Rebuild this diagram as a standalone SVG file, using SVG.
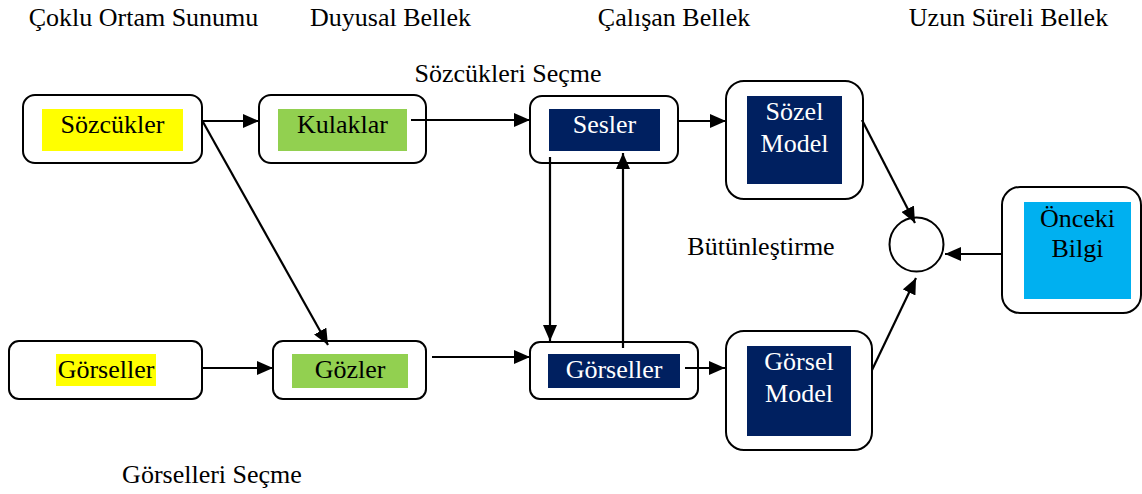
<svg xmlns="http://www.w3.org/2000/svg" width="1142" height="494" viewBox="0 0 1142 494">
<style>
text{font-family:"Times New Roman","Liberation Serif",Tinos,"DejaVu Serif",serif;font-size:26px;text-anchor:middle;fill:#000}
.box{fill:#fff;stroke:#000;stroke-width:2}
.w{fill:#fff}
.ln{stroke:#000;stroke-width:2.2;fill:none;marker-end:url(#ah)}
</style>
<defs>
<marker id="ah" viewBox="0 0 16 14" refX="16" refY="7" markerWidth="16" markerHeight="14" markerUnits="userSpaceOnUse" orient="auto">
<path d="M0,0 L16,7 L0,14 Z" fill="#000"/>
</marker>
</defs>
<g id="labels">
<text x="143.5" y="26">Çoklu Ortam Sunumu</text>
<text x="390.5" y="26">Duyusal Bellek</text>
<text x="674" y="26">Çalışan Bellek</text>
<text x="1008.5" y="26">Uzun Süreli Bellek</text>
<text x="508" y="82">Sözcükleri Seçme</text>
<text x="761" y="255">Bütünleştirme</text>
<text x="212" y="483">Görselleri Seçme</text>
</g>
<g id="sozcukler">
<rect class="box" x="23" y="95" width="179" height="68" rx="12"/>
<rect x="42" y="109" width="141" height="42" fill="#FFFF00"/>
<text x="112.5" y="133">Sözcükler</text>
</g>
<g id="kulaklar">
<rect class="box" x="259" y="95" width="167" height="68" rx="12"/>
<rect x="278" y="109" width="129" height="42" fill="#92D050"/>
<text x="342.5" y="133">Kulaklar</text>
</g>
<g id="sesler">
<rect class="box" x="530" y="96" width="148" height="67" rx="12"/>
<rect x="549" y="109" width="111" height="42" fill="#002060"/>
<text class="w" x="604.5" y="133">Sesler</text>
</g>
<g id="sozel-model">
<rect class="box" x="726" y="81" width="137" height="118" rx="18"/>
<rect x="747" y="96" width="95" height="88" fill="#002060"/>
<text class="w" x="794.5" y="120">Sözel</text>
<text class="w" x="794.5" y="152">Model</text>
</g>
<g id="gorseller-input">
<rect class="box" x="9" y="341" width="193" height="58" rx="10"/>
<rect x="56" y="354" width="100" height="32" fill="#FFFF00"/>
<text x="106" y="378">Görseller</text>
</g>
<g id="gozler">
<rect class="box" x="273" y="341" width="153" height="58" rx="10"/>
<rect x="292" y="354" width="116" height="34" fill="#92D050"/>
<text x="350" y="378">Gözler</text>
</g>
<g id="gorseller">
<rect class="box" x="530" y="342" width="168" height="57" rx="10"/>
<rect x="548" y="354" width="132" height="34" fill="#002060"/>
<text class="w" x="614" y="378">Görseller</text>
</g>
<g id="gorsel-model">
<rect class="box" x="726" y="331" width="146" height="119" rx="18"/>
<rect x="747" y="346" width="104" height="90" fill="#002060"/>
<text class="w" x="799" y="370">Görsel</text>
<text class="w" x="799" y="402">Model</text>
</g>
<g id="butunlestirme">
<circle cx="916.5" cy="244.5" r="27" fill="#fff" stroke="#000" stroke-width="2"/>
</g>
<g id="onceki-bilgi">
<rect class="box" x="1002" y="187" width="139" height="126" rx="18"/>
<rect x="1024" y="202" width="107" height="97" fill="#00B0F0"/>
<text x="1077.5" y="227">Önceki</text>
<text x="1077.5" y="257">Bilgi</text>
</g>
<g id="connectors">
<line class="ln" x1="203" y1="121" x2="259" y2="121"/>
<line class="ln" x1="411" y1="120" x2="530" y2="120"/>
<line class="ln" x1="678" y1="121" x2="726" y2="121"/>
<line class="ln" x1="203" y1="122" x2="328" y2="345"/>
<line class="ln" x1="202" y1="368" x2="273" y2="368"/>
<line class="ln" x1="432" y1="357" x2="530" y2="357"/>
<line class="ln" x1="685" y1="368" x2="725" y2="368"/>
<line class="ln" x1="550" y1="157" x2="550" y2="341"/>
<line class="ln" x1="623" y1="348" x2="623" y2="153"/>
<line class="ln" x1="862" y1="120" x2="915" y2="223"/>
<line class="ln" x1="872" y1="370" x2="916" y2="278"/>
<line class="ln" x1="1002" y1="254" x2="945" y2="254"/>
</g>
</svg>
